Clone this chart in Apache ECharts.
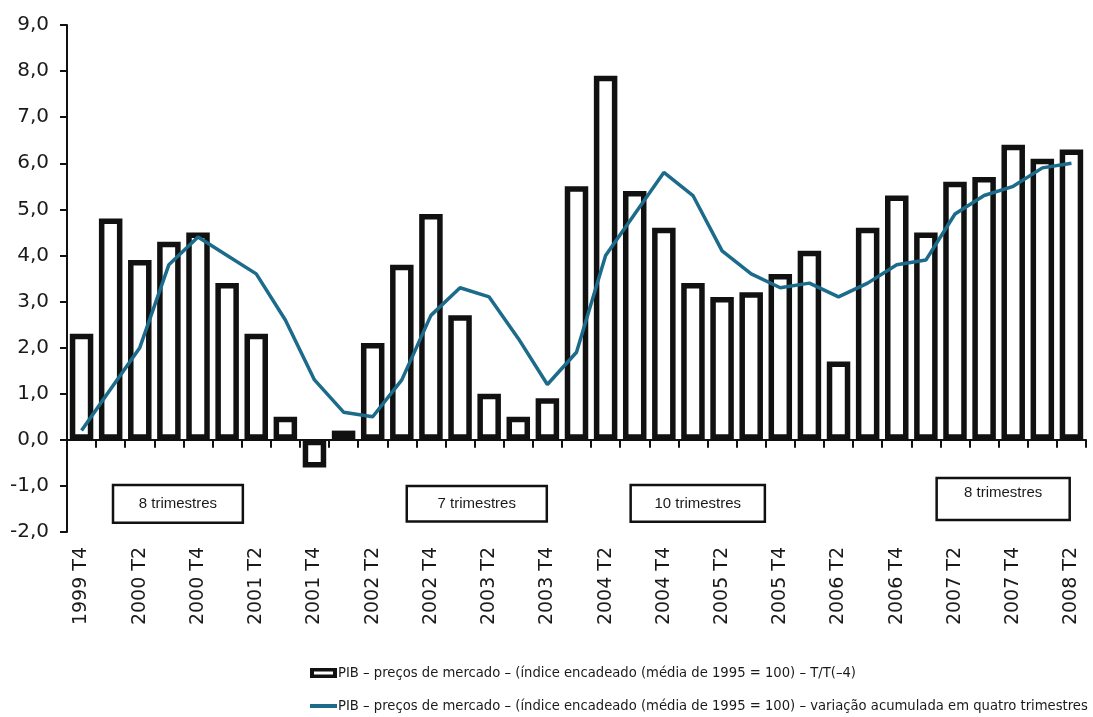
<!DOCTYPE html>
<html lang="pt">
<head>
<meta charset="utf-8">
<title>PIB – preços de mercado</title>
<script src="https://cdn.jsdelivr.net/npm/echarts@6/dist/echarts.min.js"></script>
<style>
  html, body { margin: 0; padding: 0; background: #ffffff; }
  #chart { width: 1093px; height: 717px; }
</style>
</head>
<body>
<div id="chart"></div>
<script>
// Trimestres (1999 T4 – 2008 T2)
const quarters = [
  '1999 T4',
  '2000 T1', '2000 T2', '2000 T3', '2000 T4',
  '2001 T1', '2001 T2', '2001 T3', '2001 T4',
  '2002 T1', '2002 T2', '2002 T3', '2002 T4',
  '2003 T1', '2003 T2', '2003 T3', '2003 T4',
  '2004 T1', '2004 T2', '2004 T3', '2004 T4',
  '2005 T1', '2005 T2', '2005 T3', '2005 T4',
  '2006 T1', '2006 T2', '2006 T3', '2006 T4',
  '2007 T1', '2007 T2', '2007 T3', '2007 T4',
  '2008 T1', '2008 T2'
];

// Variação homóloga T/T(-4), %
const yoyChange = [
  2.3,
  4.8, 3.9, 4.3, 4.5,
  3.4, 2.3, 0.5, -0.6,
  0.2, 2.1, 3.8, 4.9,
  2.7, 1.0, 0.5, 0.9,
  5.5, 7.9, 5.4, 4.6,
  3.4, 3.1, 3.2, 3.6,
  4.1, 1.7, 4.6, 5.3,
  4.5, 5.6, 5.7, 6.4,
  6.1, 6.3
];

// Variação acumulada em quatro trimestres, %
const cumulative4q = [
  0.2,
  1.1, 2.0, 3.8, 4.4,
  4.0, 3.6, 2.6, 1.3,
  0.6, 0.5, 1.3, 2.7,
  3.3, 3.1, 2.2, 1.2,
  1.9, 4.0, 4.9, 5.8,
  5.3, 4.1, 3.6, 3.3,
  3.4, 3.1, 3.4, 3.8,
  3.9, 4.9, 5.3, 5.5,
  5.9, 6.0
];

// Períodos assinalados (posição em índice de trimestre e em %)
const periodLabels = ['8 trimestres', '7 trimestres', '10 trimestres', '8 trimestres'];
const periodFrom   = [1.08, 11.17, 18.86, 29.37];
const periodTo     = [5.54, 15.98, 23.47, 33.94];
const periodTop    = [-0.98, -1.0, -0.98, -0.83];
const periodBottom = [-1.80, -1.77, -1.78, -1.74];

// Escala do eixo vertical
const yMin = -2, yMax = 9, yStep = 1;

const barName = 'PIB – preços de mercado – (índice encadeado (média de 1995 = 100) – T/T(–4)';
const lineName = 'PIB – preços de mercado – (índice encadeado (média de 1995 = 100) – variação acumulada em quatro trimestres';

const ink = '#111111';
const textInk = '#1a1a1a';
const lineBlue = '#1c6b8b';
const axisFont = '"DejaVu Sans", Verdana, sans-serif';
const boxFont = '15px "Liberation Sans", Arial, sans-serif';
const legendFont = '14px "DejaVu Sans", Verdana, sans-serif';

// condensed legend text: horizontal squeeze so the first entry spans legendTextWidth px
const legendTextWidth = 518;
function measure(text, font) {
  const ctx = document.createElement('canvas').getContext('2d');
  ctx.font = font;
  return ctx.measureText(text).width;
}
const legendSqueeze = legendTextWidth / measure(barName, legendFont);

const chart = echarts.init(document.getElementById('chart'), null, { renderer: 'canvas' });

function renderPeriodBox(params, api) {
  const k = params.dataIndex;
  const band = api.size([1, 0])[0];
  const toPx = (xi, v) => {
    const i = Math.floor(xi);
    const p = api.coord([i, v]);
    return [p[0] + (xi - i) * band, p[1]];
  };
  const a = toPx(periodFrom[k], periodTop[k]);
  const b = toPx(periodTo[k], periodBottom[k]);
  const w = b[0] - a[0], h = b[1] - a[1];
  return {
    type: 'group',
    children: [
      {
        type: 'rect',
        shape: { x: a[0], y: a[1], width: w, height: h },
        style: { fill: '#ffffff', stroke: ink, lineWidth: 2.5 }
      },
      {
        type: 'text',
        x: a[0] + w / 2,
        y: a[1] + (k === 3 ? h * 0.36 : h / 2),
        style: {
          text: periodLabels[k],
          fill: textInk,
          font: boxFont,
          align: 'center',
          verticalAlign: 'middle'
        }
      }
    ]
  };
}

// legend drawn as graphic so its text can be condensed
const legendX = 310, legendRow1 = 673, legendRow2 = 706, iconW = 27;
const legendGraphic = [
  {
    type: 'rect',
    shape: { x: legendX, y: legendRow1 - 5, width: iconW, height: 10 },
    style: { fill: ink }
  },
  {
    type: 'rect',
    shape: { x: legendX + 4, y: legendRow1 - 1.5, width: iconW - 8, height: 3 },
    style: { fill: '#ffffff' }
  },
  {
    type: 'text',
    x: legendX + iconW + 1,
    y: legendRow1,
    scaleX: legendSqueeze,
    style: { text: barName, font: legendFont, fill: textInk, verticalAlign: 'middle' }
  },
  {
    type: 'rect',
    shape: { x: legendX, y: legendRow2 - 2, width: iconW, height: 4 },
    style: { fill: lineBlue }
  },
  {
    type: 'text',
    x: legendX + iconW + 1,
    y: legendRow2,
    scaleX: legendSqueeze,
    style: { text: lineName, font: legendFont, fill: textInk, verticalAlign: 'middle' }
  }
];

chart.setOption({
  animation: false,
  backgroundColor: '#ffffff',
  grid: {
    left: 67,
    right: 7,
    top: 25,
    bottom: 185,
    containLabel: false,
    outerBoundsMode: 'none'
  },
  graphic: legendGraphic,
  xAxis: [
    {
      // tick labels along the bottom of the plot
      type: 'category',
      data: quarters,
      position: 'bottom',
      boundaryGap: true,
      axisLine: { show: false, onZero: false },
      axisTick: { show: false },
      axisLabel: {
        interval: 1,
        rotate: 90,
        margin: 15,
        fontFamily: axisFont,
        fontSize: 19,
        color: textInk
      },
      splitLine: { show: false }
    },
    {
      // zero line with a tick between every quarter
      type: 'category',
      data: quarters,
      position: 'top',
      boundaryGap: true,
      axisLine: { show: true, onZero: true, lineStyle: { color: ink, width: 2 } },
      axisTick: { show: true, inside: true, interval: 0, length: 8, lineStyle: { color: ink, width: 2 } },
      axisLabel: { show: false },
      splitLine: { show: false }
    }
  ],
  yAxis: {
    type: 'value',
    min: yMin,
    max: yMax,
    interval: yStep,
    axisLine: { show: true, onZero: false, lineStyle: { color: ink, width: 2 } },
    axisTick: { show: true, length: 7, lineStyle: { color: ink, width: 2 } },
    axisLabel: {
      margin: 18,
      fontFamily: axisFont,
      fontSize: 20,
      color: textInk,
      formatter: v => v.toFixed(1).replace('.', ',')
    },
    splitLine: { show: false }
  },
  series: [
    {
      name: barName,
      type: 'bar',
      xAxisIndex: 0,
      data: yoyChange,
      barWidth: 23.5,
      itemStyle: { color: '#ffffff', borderColor: ink, borderWidth: 5.5 },
      z: 2
    },
    {
      name: lineName,
      type: 'line',
      xAxisIndex: 0,
      data: cumulative4q,
      symbol: 'none',
      smooth: false,
      lineStyle: { color: lineBlue, width: 3.5 },
      itemStyle: { color: lineBlue },
      z: 3
    },
    {
      name: 'períodos',
      type: 'custom',
      xAxisIndex: 0,
      silent: true,
      clip: false,
      data: periodLabels.map((_, k) => [Math.floor(periodFrom[k]), periodTop[k]]),
      renderItem: renderPeriodBox,
      z: 4
    }
  ]
});
</script>
</body>
</html>
